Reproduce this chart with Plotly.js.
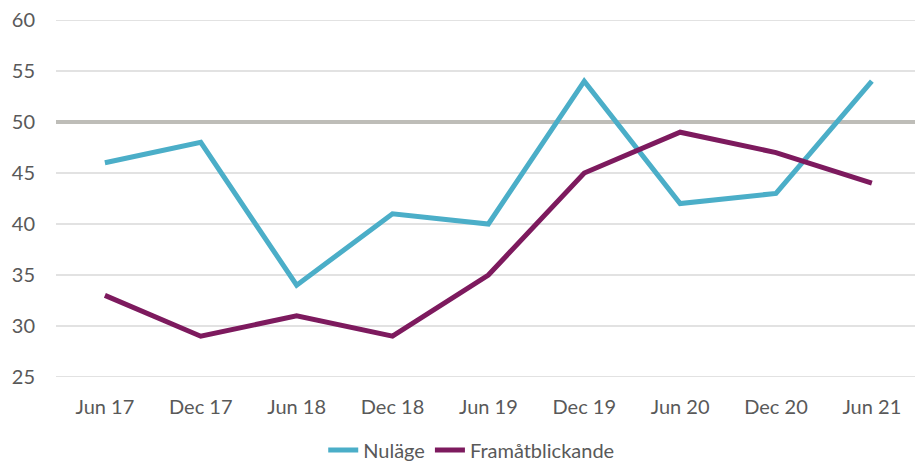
<!DOCTYPE html>
<html>
<head>
<meta charset="utf-8">
<script src="https://cdn.plot.ly/plotly-3.0.1.min.js"></script>
<style>html,body{margin:0;padding:0;background:#fff;}#chart{width:915px;height:465px;}</style>
</head>
<body>
<div id="chart"></div>
<script>
const categories = ["Jun 17","Dec 17","Jun 18","Dec 18","Jun 19","Dec 19","Jun 20","Dec 20","Jun 21"];
const nulage = [46, 48, 34, 41, 40, 54, 42, 43, 54];
const framat = [33, 29, 31, 29, 35, 45, 49, 47, 44];
const yTicks = [25, 30, 35, 40, 45, 50, 55, 60];
const refLevel = 50;

const font = {family: "Lato, 'Open Sans', sans-serif", size: 20, color: "#595959"};

const traces = [
  {x: categories, y: nulage, name: "Nuläge", type: "scatter", mode: "lines",
   line: {color: "#4BAEC8", width: 5}},
  {x: categories, y: framat, name: "Framåtblickande", type: "scatter", mode: "lines",
   line: {color: "#7D1A5E", width: 5}}
];

const shapes = yTicks.map(v => ({type: "line", xref: "paper", x0: 0, x1: 1, yref: "y", y0: v, y1: v,
  line: {color: "#D9D9D9", width: 1.3}, layer: "below"}));
shapes.push({type: "line", xref: "paper", x0: 0, x1: 1, yref: "y", y0: refLevel, y1: refLevel,
  line: {color: "#BEBDB8", width: 4}, layer: "below"});

const layout = {
  width: 915, height: 465,
  margin: {l: 56, r: 0, t: 20, b: 88, autoexpand: false},
  paper_bgcolor: "#fff", plot_bgcolor: "#fff",
  font: font,
  showlegend: true,
  legend: {orientation: "h", x: 0.515, xanchor: "center", xref: "container",
           y: 0.032, yanchor: "middle", yref: "container",
           font: font, tracegroupgap: 0, itemwidth: 30},
  xaxis: {type: "category", range: [-0.51, 8.45], showgrid: false, zeroline: false,
          showline: false, ticks: "", tickfont: font, ticklabelstandoff: 16},
  yaxis: {range: [25, 60], tickvals: yTicks, showgrid: false, zeroline: false,
          showline: false, tickfont: font, ticks: "", ticklabelstandoff: 20},
  shapes: shapes
};

Plotly.newPlot("chart", traces, layout, {displayModeBar: false, staticPlot: true});
</script>
</body>
</html>
